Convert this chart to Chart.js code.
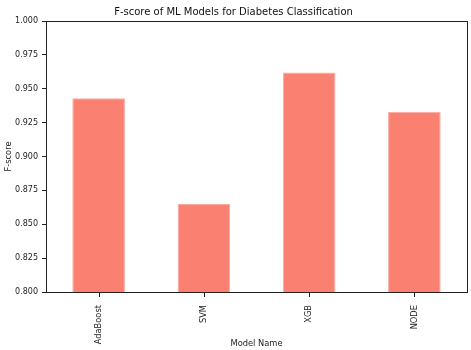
<!DOCTYPE html>
<html>
<head>
<meta charset="utf-8">
<script src="https://cdn.jsdelivr.net/npm/chart.js@4"></script>
<style>
  html, body { margin: 0; padding: 0; background: #fff; }
  #wrap { width: 471px; height: 350px; }
</style>
</head>
<body>
<div id="wrap"><canvas id="fscore"></canvas></div>
<script>
const models = ['AdaBoost', 'SVM', 'XGB', 'NODE'];
const fscores = [0.943, 0.865, 0.962, 0.933];
const yTicks = [0.800, 0.825, 0.850, 0.875, 0.900, 0.925, 0.950, 0.975, 1.000];

// box around the plot area + x tick marks at bar centres, matplotlib style
const frame = {
  id: 'frame',
  afterDraw(chart) {
    const a = chart.chartArea, ctx = chart.ctx;
    const x = chart.scales.x;
    const bottom = Math.round(a.bottom);
    ctx.save();
    ctx.strokeStyle = '#222';
    ctx.lineWidth = 1;
    ctx.strokeRect(Math.round(a.left) + 0.5, Math.round(a.top) + 0.5,
      Math.round(a.right - a.left), bottom - Math.round(a.top));
    for (let i = 0; i < models.length; i++) {
      const px = Math.round(x.getPixelForValue(i)) + 0.5;
      ctx.beginPath();
      ctx.moveTo(px, bottom);
      ctx.lineTo(px, bottom + 5);
      ctx.stroke();
    }
    ctx.restore();
  }
};

Chart.defaults.font.family = 'DejaVu Sans';
Chart.defaults.color = '#222';

new Chart(document.getElementById('fscore'), {
  type: 'bar',
  data: {
    labels: models,
    datasets: [{
      label: 'F-score',
      data: fscores,
      backgroundColor: 'rgb(250, 128, 114)',
      borderColor: 'rgba(250, 170, 160, 1)',
      borderWidth: 1,
      categoryPercentage: 1.0,
      barPercentage: 0.5
    }]
  },
  options: {
    responsive: true,
    maintainAspectRatio: false,
    animation: false,
    layout: { padding: { left: 0, right: 4, top: 0, bottom: 0 } },
    plugins: {
      legend: { display: false },
      tooltip: { enabled: false },
      title: {
        display: true,
        text: 'F-score of ML Models for Diabetes Classification',
        font: { size: 10, weight: 'normal' },
        color: '#111',
        padding: { top: 6, bottom: 3 }
      }
    },
    scales: {
      x: {
        afterFit(s) { s.height = 58; },
        grid: { display: false },
        border: { display: false },
        ticks: { minRotation: 90, maxRotation: 90, font: { size: 8.3 }, color: '#222', padding: 5 },
        title: { display: true, text: 'Model Name', font: { size: 8.3 }, color: '#222', padding: { top: 0, bottom: 1 } }
      },
      y: {
        min: 0.8,
        max: 1.0,
        afterFit(s) { s.width = 46; },
        afterBuildTicks(axis) { axis.ticks = yTicks.map(v => ({ value: v })); },
        grid: { drawOnChartArea: false, drawTicks: true, tickLength: 4, color: '#222' },
        border: { display: false },
        ticks: { font: { size: 8 }, color: '#222', padding: 4, callback: v => v.toFixed(3) },
        title: { display: true, text: 'F-score', font: { size: 8.3 }, color: '#222', padding: { top: 4, bottom: 0 } }
      }
    }
  },
  plugins: [frame]
});
</script>
</body>
</html>
